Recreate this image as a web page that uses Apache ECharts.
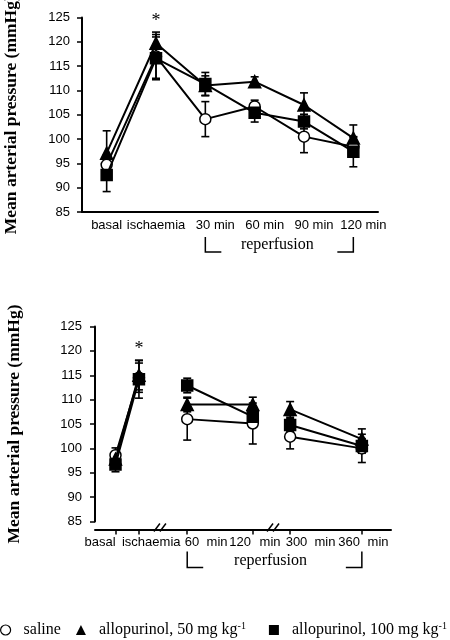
<!DOCTYPE html>
<html><head><meta charset="utf-8">
<script src="https://cdn.jsdelivr.net/npm/echarts@6/dist/echarts.min.js"></script>
<style>html,body{margin:0;padding:0;background:#fff}#c{width:450px;height:640px}</style>
</head><body><div id="c"></div>
<script>
// ---------- Top panel (category axis) ----------
const topCats = ['basal', 'ischaemia', '30', '60', '90', '120'];
const topSuffix = ['', '', 'min', 'min', 'min', 'min'];
const topSaline = [94.7, 117.0, 104.1, 106.7, 100.5, 98.4];
const topSalineErr = [2.0, 4.5, 3.6, 1.3, 3.3, 2.0];
const topAllo50 = [97.1, 119.7, 111.0, 111.8, 107.0, 100.2];
const topAllo50Err = [4.6, 2.3, 2.0, 1.0, 2.5, 2.7];
const topAllo100 = [92.6, 116.6, 111.3, 105.4, 103.6, 97.4];
const topAllo100Err = [3.4, 4.4, 2.4, 1.9, 1.5, 3.1];

// ---------- Bottom panel (broken time axis) ----------
const botCats = ['basal', 'ischaemia', '60 min', '120 min', '300 min', '360 min'];
const botX = [0.9, 1.93, 4.05, 6.93, 8.57, 11.72];
const botSegment = [0, 0, 1, 1, 2, 2];
const botSaline = [98.6, 114.5, 106.0, 105.1, 102.4, 100.0];
const botSalineErr = [1.5, 3.0, 4.3, 4.2, 2.5, 2.9];
const botAllo50 = [97.8, 115.0, 109.0, 109.0, 108.0, 101.9];
const botAllo50Err = [1.0, 3.0, 1.5, 1.5, 1.6, 2.1];
const botAllo100 = [96.7, 114.2, 112.9, 106.5, 104.8, 100.5];
const botAllo100Err = [1.5, 3.9, 1.5, 1.5, 1.3, 1.5];
const botTickLabels = ['basal', 'ischaemia', '60', 'min', '120', 'min', '300', 'min', '360', 'min'];
const botTickLabelAt = [0.22, 2.47, 4.26, 5.36, 6.37, 7.69, 8.85, 10.1, 11.16, 12.43];
const botBreaks = [2.85, 7.82];

const yMin = 85, yMax = 125, yStep = 5;
const yName = 'Mean arterial pressure (mmHg)';
const groupNames = ['saline', 'allopurinol, 50 mg kg-1', 'allopurinol, 100 mg kg-1'];
const starLabel = '*';
const reperfusionLabel = 'reperfusion';

const SANS = 'Liberation Sans, Arial, sans-serif';
const SERIF = 'Liberation Serif, Times New Roman, serif';

const symbols = ['circle', 'triangle', 'rect'];
const fills = ['#fff', '#000', '#000'];

function errRender(params, api) {
  const x = api.value(0), lo = api.value(1), hi = api.value(2);
  const p1 = api.coord([x, lo]), p2 = api.coord([x, hi]);
  const w = 4;
  const style = { stroke: '#000', lineWidth: 1.6 };
  return { type: 'group', children: [
    { type: 'line', shape: { x1: p1[0], y1: p1[1], x2: p2[0], y2: p2[1] }, style },
    { type: 'line', shape: { x1: p1[0] - w, y1: p1[1], x2: p1[0] + w, y2: p1[1] }, style },
    { type: 'line', shape: { x1: p2[0] - w, y1: p2[1], x2: p2[0] + w, y2: p2[1] }, style }
  ]};
}

const series = [];
const topVals = [topSaline, topAllo50, topAllo100];
const topErrs = [topSalineErr, topAllo50Err, topAllo100Err];
const botVals = [botSaline, botAllo50, botAllo100];
const botErrs = [botSalineErr, botAllo50Err, botAllo100Err];

for (let g = 0; g < 3; g++) {
  series.push({
    type: 'custom', xAxisIndex: 0, yAxisIndex: 0, z: 1, silent: true,
    renderItem: errRender, encode: { x: 0, y: [1, 2] },
    data: topVals[g].map((v, i) => [i, v - topErrs[g][i], v + topErrs[g][i]])
  });
  series.push({
    type: 'custom', xAxisIndex: 1, yAxisIndex: 1, z: 1, silent: true,
    renderItem: errRender, encode: { x: 0, y: [1, 2] },
    data: botVals[g].map((v, i) => [botX[i], v - botErrs[g][i], v + botErrs[g][i]])
  });
}
for (let g = 0; g < 3; g++) {
  const common = {
    type: 'line', name: groupNames[g], symbol: symbols[g],
    symbolSize: g === 1 ? 12 : 11, showAllSymbol: true, z: 3 + g,
    lineStyle: { color: '#000', width: 2 },
    itemStyle: { color: fills[g], borderColor: '#000', borderWidth: 1.5 },
    animation: false
  };
  series.push(Object.assign({}, common, { xAxisIndex: 0, yAxisIndex: 0, data: topVals[g] }));
  const botData = [];
  botVals[g].forEach((v, i) => {
    botData.push([botX[i], v]);
    if (i < botX.length - 1 && botSegment[i + 1] !== botSegment[i]) {
      botData.push([(botX[i] + botX[i + 1]) / 2, '-']);
    }
  });
  series.push(Object.assign({}, common, { xAxisIndex: 1, yAxisIndex: 1, data: botData, connectNulls: false }));
}

const yAxisCommon = {
  type: 'value', min: yMin, max: yMax, interval: yStep,
  name: yName, nameLocation: 'middle',
  nameTextStyle: { fontFamily: SERIF, fontWeight: 'bold', fontSize: 17.5, color: '#000' },
  axisLine: { show: true, lineStyle: { color: '#000', width: 2 } },
  axisTick: { show: true, length: 5, lineStyle: { color: '#000', width: 1.5 } },
  axisLabel: { fontFamily: SANS, fontSize: 13, color: '#000' },
  splitLine: { show: false }
};

const chart = echarts.init(document.getElementById('c'), null, { renderer: 'canvas' });
chart.setOption({
  animation: false,
  backgroundColor: '#fff',
  grid: [
    { left: 82, top: 17.5, width: 296, height: 194.5, outerBoundsMode: 'none', containLabel: false },
    { left: 95, top: 326.5, width: 296, height: 195, outerBoundsMode: 'none', containLabel: false }
  ],
  xAxis: [
    {
      type: 'category', gridIndex: 0, data: topCats, boundaryGap: true,
      axisLine: { lineStyle: { color: '#000', width: 2 } },
      axisTick: { alignWithLabel: true, length: 4, lineStyle: { color: '#000', width: 1.5 } },
      axisLabel: {
        interval: 0, margin: 7, color: '#000', fontFamily: SANS, fontSize: 13,
        formatter: (val, idx) => topSuffix[idx] ? '{sp|}{n|' + val + '}{m| ' + topSuffix[idx] + '}' : '{n|' + val + '}',
        rich: {
          sp: { width: 20 },
          n: { fontFamily: SANS, fontSize: 13, color: '#000' },
          m: { fontFamily: SANS, fontSize: 13, color: '#000' }
        }
      }
    },
    {
      type: 'value', gridIndex: 1, min: 0, max: 13, offset: 8,
      axisLine: { onZero: false, lineStyle: { color: '#000', width: 2 } },
      axisTick: { customValues: botX, length: 5, lineStyle: { color: '#000', width: 1.5 } },
      axisLabel: {
        customValues: botTickLabelAt, margin: 6, color: '#000', fontFamily: SANS, fontSize: 13,
        hideOverlap: false,
        formatter: (val) => { const k = botTickLabelAt.indexOf(val); return k >= 0 ? botTickLabels[k] : ''; }
      },
      splitLine: { show: false }
    }
  ],
  yAxis: [
    Object.assign({}, yAxisCommon, { gridIndex: 0, nameGap: 62, axisLabel: Object.assign({}, yAxisCommon.axisLabel, { margin: 12 }) }),
    Object.assign({}, yAxisCommon, { gridIndex: 1, nameGap: 72, axisLabel: Object.assign({}, yAxisCommon.axisLabel, { margin: 13 }) })
  ],
  legend: {
    left: 0, top: 621, width: 600, padding: 0, itemWidth: 10, itemHeight: 10, itemGap: 15,
    data: [
      { name: groupNames[0], icon: 'circle', itemStyle: { color: '#fff', borderColor: '#000', borderWidth: 1.2 } },
      { name: groupNames[1], icon: 'triangle', itemStyle: { color: '#000', borderWidth: 0 } },
      { name: groupNames[2], icon: 'rect', itemStyle: { color: '#000', borderWidth: 0 } }
    ],
    formatter: (name) => {
      if (name.endsWith('-1')) return '{t|  ' + name.slice(0, -2) + '}{s|-1}{t|  }';
      return '{t|  ' + name + '}';
    },
    textStyle: {
      color: '#000', fontFamily: SERIF, fontSize: 16,
      rich: {
        t: { fontFamily: SERIF, fontSize: 16, color: '#000' },
        s: { fontFamily: SERIF, fontSize: 10, color: '#000', verticalAlign: 'top', padding: [0, 0, 8, 0] }
      }
    }
  },
  series: series
});

// annotations placed through the axes
const px = (gi, x, y) => chart.convertToPixel({ gridIndex: gi }, [x, y]);
const graphics = [];
function bracket(gi, xa, xb, axisY, d1, d2, txtCx) {
  const a = px(gi, xa, yMin), b = px(gi, xb, yMin);
  const y1 = axisY + d1, y2 = axisY + d2;
  const st = { stroke: '#000', lineWidth: 1.5 };
  graphics.push({ type: 'polyline', shape: { points: [[a[0], y1], [a[0], y2], [a[0] + 16, y2]] }, style: st, silent: true });
  graphics.push({ type: 'polyline', shape: { points: [[b[0] - 16, y2], [b[0], y2], [b[0], y1]] }, style: st, silent: true });
  graphics.push({ type: 'text', x: (a[0] + b[0]) / 2 + txtCx, y: y2 + 1, style: { text: reperfusionLabel, fill: '#000', font: '16px ' + SERIF, textAlign: 'center', textVerticalAlign: 'bottom' }, silent: true });
}
const topAxisY = px(0, 0, yMin)[1];
bracket(0, 2, 5, topAxisY, 25, 40, -2);
const botAxisY = px(1, 0, yMin)[1] + 8;
bracket(1, botX[2], botX[5], botAxisY, 22, 38, -4);

// asterisks
const s1 = px(0, 1, 124.3);
graphics.push({ type: 'text', x: s1[0], y: s1[1], style: { text: starLabel, fill: '#000', font: '18px ' + SERIF, textAlign: 'center', textVerticalAlign: 'middle' }, silent: true });
const s2 = px(1, botX[1], 120.4);
graphics.push({ type: 'text', x: s2[0], y: s2[1], style: { text: starLabel, fill: '#000', font: '18px ' + SERIF, textAlign: 'center', textVerticalAlign: 'middle' }, silent: true });

// axis break marks
botBreaks.forEach(bx => {
  const c = px(1, bx, yMin)[0];
  [-3, 3].forEach(dx => {
    graphics.push({ type: 'line', shape: { x1: c + dx - 3, y1: botAxisY + 2, x2: c + dx + 3, y2: botAxisY - 6 }, style: { stroke: '#000', lineWidth: 1.5 }, silent: true });
  });
});
chart.setOption({ graphic: graphics });
</script>
</body></html>
